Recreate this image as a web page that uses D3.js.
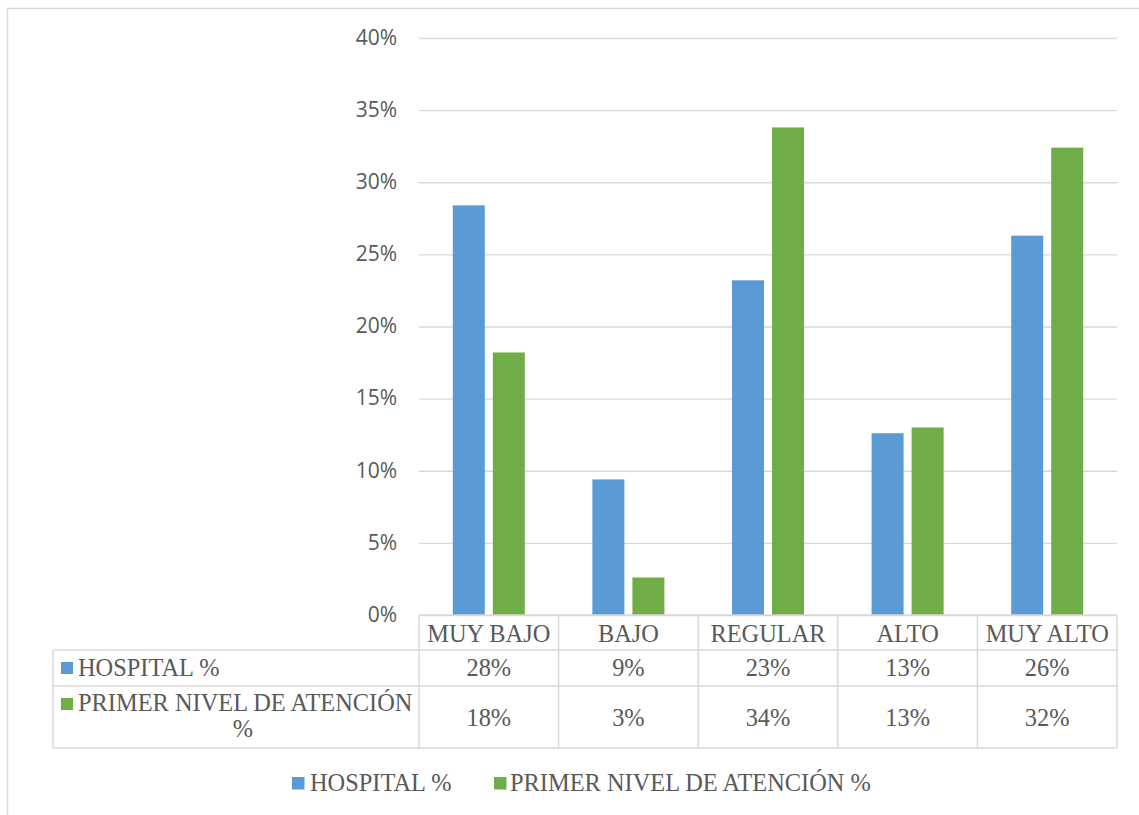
<!DOCTYPE html>
<html>
<head>
<meta charset="utf-8">
<script src="https://cdn.jsdelivr.net/npm/d3@7"></script>
<style>
  html, body { margin: 0; padding: 0; background: #fff; }
  svg { display: block; }
</style>
</head>
<body>
<script>
// Categories, series and tick values
const categories = ["MUY BAJO", "BAJO", "REGULAR", "ALTO", "MUY ALTO"];
const seriesNames = ["HOSPITAL %", "PRIMER NIVEL DE ATENCIÓN %"];
const hospital = [0.284, 0.094, 0.232, 0.126, 0.263];
const primerNivel = [0.182, 0.026, 0.338, 0.130, 0.324];
const yTicks = [0, 0.05, 0.10, 0.15, 0.20, 0.25, 0.30, 0.35, 0.40];

const colors = ["#5B9BD5", "#70AD47"];
const textColor = "#595959";
const lineColor = "#d9d9d9";
const serif = "'Liberation Serif', 'Times New Roman', serif";
const sans = "'Open Sans', 'Noto Sans', sans-serif";
const serifSize = 24.4;

const W = 1139, H = 815;
const plot = { left: 419, right: 1117, top: 38, bottom: 615 };

const svg = d3.select("body").append("svg")
  .attr("width", W).attr("height", H);

// chart frame (top and left edges visible)
svg.append("path")
  .attr("d", `M7.5,815 L7.5,8.5 L${W},8.5`)
  .attr("fill", "none").attr("stroke", lineColor).attr("stroke-width", 1.5);

const x0 = d3.scaleBand().domain(categories)
  .range([plot.left, plot.right]).paddingInner(0.484).paddingOuter(0.242);
const x1 = d3.scaleBand().domain(seriesNames)
  .range([0, x0.bandwidth()]).paddingInner(0.2);
const y = d3.scaleLinear().domain([0, 0.4]).range([plot.bottom, plot.top]);

const pct = d3.format(".0%");

// value axis with gridlines
const axis = svg.append("g")
  .attr("transform", `translate(${plot.left},0)`)
  .call(d3.axisLeft(y).tickValues(yTicks).tickFormat(pct)
    .tickSize(-(plot.right - plot.left)).tickPadding(22));
axis.select(".domain").remove();
axis.selectAll(".tick line").attr("stroke", lineColor).attr("stroke-width", 1.3);
axis.selectAll(".tick text")
  .attr("fill", textColor).attr("font-family", sans).attr("font-size", 21)
  .attr("dy", "0.3em");

// bars
const rows = categories.map((c, i) => ({ cat: c, vals: [hospital[i], primerNivel[i]] }));
const groups = svg.append("g").selectAll("g").data(rows).join("g")
  .attr("transform", d => `translate(${x0(d.cat)},0)`);
groups.selectAll("rect")
  .data(d => d.vals.map((v, k) => ({ v, k })))
  .join("rect")
  .attr("x", d => x1(seriesNames[d.k]))
  .attr("width", x1.bandwidth())
  .attr("y", d => y(d.v))
  .attr("height", d => y(0) - y(d.v))
  .attr("fill", d => colors[d.k]);

// data table under the plot
const step = x0.step();
const cellLeft = c => x0(c) + x0.bandwidth() / 2 - step / 2;
const tableLeft = 53;
const rowY = [615, 650, 686, 748];
const t = svg.append("g").attr("stroke", lineColor).attr("stroke-width", 1.5).attr("fill", "none");

// header row line (categories only)
t.append("line").attr("x1", plot.left).attr("x2", plot.right).attr("y1", rowY[0]).attr("y2", rowY[0]);
// body rows
[rowY[1], rowY[2], rowY[3]].forEach(yy =>
  t.append("line").attr("x1", tableLeft).attr("x2", plot.right).attr("y1", yy).attr("y2", yy));
// verticals
t.append("line").attr("x1", tableLeft).attr("x2", tableLeft).attr("y1", rowY[1]).attr("y2", rowY[3]);
categories.forEach(c => {
  const xx = cellLeft(c);
  t.append("line").attr("x1", xx).attr("x2", xx).attr("y1", rowY[0]).attr("y2", rowY[3]);
});
t.append("line").attr("x1", plot.right).attr("x2", plot.right).attr("y1", rowY[0]).attr("y2", rowY[3]);

const txt = svg.append("g").attr("fill", textColor).attr("font-family", serif).attr("font-size", serifSize);

// category header
txt.selectAll(".cat").data(categories).join("text")
  .attr("x", c => x0(c) + x0.bandwidth() / 2).attr("y", 642)
  .attr("text-anchor", "middle").text(c => c);

// values
const seriesVals = [hospital, primerNivel];
const valueBaselines = [676, 726];
seriesVals.forEach((vals, k) => {
  txt.selectAll(null).data(categories).join("text")
    .attr("x", c => x0(c) + x0.bandwidth() / 2).attr("y", valueBaselines[k])
    .attr("text-anchor", "middle").text((c, i) => pct(vals[i]));
});

// row headers with series keys
svg.append("rect").attr("x", 61).attr("y", 662).attr("width", 12).attr("height", 12).attr("fill", colors[0]);
txt.append("text").attr("x", 78).attr("y", 675.5).text(seriesNames[0]);
svg.append("rect").attr("x", 61).attr("y", 698).attr("width", 12).attr("height", 12).attr("fill", colors[1]);
txt.append("text").attr("x", 78).attr("y", 711).text("PRIMER NIVEL DE ATENCIÓN");
txt.append("text").attr("x", 243).attr("y", 737).attr("text-anchor", "middle").text("%");

// legend
const legend = [{ x: 292, tx: 310 }, { x: 494, tx: 510 }];
legend.forEach((l, k) => {
  svg.append("rect").attr("x", l.x).attr("y", 777).attr("width", 12.5).attr("height", 12.5).attr("fill", colors[k]);
  txt.append("text").attr("x", l.tx).attr("y", 791).text(seriesNames[k]);
});
</script>
</body>
</html>
